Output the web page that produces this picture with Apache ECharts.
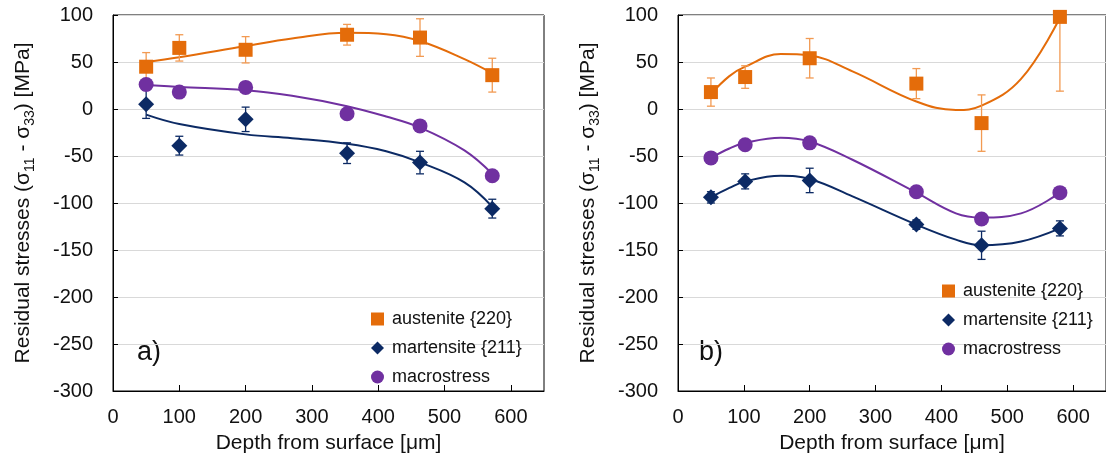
<!DOCTYPE html>
<html lang="en">
<head>
  <meta charset="UTF-8">
  <title>Residual stresses</title>
  <script src="https://cdn.jsdelivr.net/npm/echarts@6/dist/echarts.min.js"></script>
  <style>
    html, body { margin: 0; padding: 0; background: #fff; }
    #main { width: 1106px; height: 463px; }
  </style>
</head>
<body>
<div id="main"></div>
<script type="text/javascript">
// panel a)
var depthA = [50, 100, 200, 353, 463, 572];
var austA = [45, 65, 63, 79, 76, 36];
var austErrA = [15, 14, 14, 11, 20, 18];
var martA = [5, -39, -11, -47, -57, -106];
var martErrA = [15, 10, 13, 11, 12, 10];
var macroA = [26, 18, 23, -5, -18, -71];
// trend lines read off panel a)
var trendDepthA = [50, 100, 200, 270, 353, 412, 464, 530, 572];
var austTrendA = [50, 55, 67, 75, 81, 79.5, 72, 53, 38];
var martTrendA = [-6, -16, -27, -31, -37, -45, -57, -78, -104];
var macroTrendA = [25.5, 23.5, 20, 14, 3, -8, -20, -44, -69];

// panel b)
var depthB = [50, 102, 200, 362, 461, 580];
var austB = [18, 34, 54, 27, -15, 98];
var austErrB = [15, 12, 21, 16, 30, 79];
var martB = [-94, -77, -76, -123, -145, -127];
var martErrB = [6, 8, 13, 5, 15, 8];
var macroB = [-52, -38, -36, -88, -117, -89];
// trend lines read off panel b)
var trendDepthB = [50, 78, 102, 156, 200, 265, 362, 422, 461, 521, 580];
var austTrendB = [16, 35, 45, 58.5, 57, 40, 8, -1, 3.5, 32, 97];
var martTrendB = [-94, -84, -77, -71, -74.5, -93, -123, -139, -145, -141, -127];
var macroTrendB = [-52, -42, -36, -30.5, -34.5, -54, -89, -111, -115.5, -111, -89];

var xTicks = [0, 100, 200, 300, 400, 500, 600];

var ORANGE = '#E46C0A', ORANGE_ERR = '#F29A52', NAVY = '#0C2A64', PURPLE = '#7030A0';
var FONT = 'Liberation Sans';
var TXT = '#111';

var names = ['austenite {220}', 'martensite {211}', 'macrostress'];

function pairs(xs, ys) {
  return xs.map(function (x, i) { return [x, ys[i]]; });
}

function errBars(xs, ys, es, color, idx) {
  return {
    type: 'custom',
    xAxisIndex: idx, yAxisIndex: idx,
    z: 2,
    silent: true,
    data: xs.map(function (x, i) { return [x, ys[i], es[i]]; }),
    encode: { x: 0, y: 1 },
    renderItem: function (params, api) {
      var x = api.value(0), y = api.value(1), e = api.value(2);
      var top = api.coord([x, y + e]);
      var bot = api.coord([x, y - e]);
      var cs = params.coordSys;
      var t = Math.max(top[1], cs.y), b = Math.min(bot[1], cs.y + cs.height);
      var st = { stroke: color, lineWidth: 1.3 };
      var kids = [{ type: 'line', shape: { x1: top[0], y1: t, x2: top[0], y2: b }, style: st }];
      if (top[1] >= cs.y) kids.push({ type: 'line', shape: { x1: top[0] - 4, y1: top[1], x2: top[0] + 4, y2: top[1] }, style: st });
      if (bot[1] <= cs.y + cs.height) kids.push({ type: 'line', shape: { x1: bot[0] - 4, y1: bot[1], x2: bot[0] + 4, y2: bot[1] }, style: st });
      return { type: 'group', children: kids };
    }
  };
}

function trend(xs, ys, color, idx) {
  return {
    type: 'line', name: 'trend', xAxisIndex: idx, yAxisIndex: idx,
    data: pairs(xs, ys), smooth: 0.4, showSymbol: false, silent: true, z: 1,
    lineStyle: { color: color, width: 2 }
  };
}

function points(name, xs, ys, symbol, size, color, idx) {
  return {
    type: 'scatter', name: name, xAxisIndex: idx, yAxisIndex: idx,
    data: pairs(xs, ys), symbol: symbol, symbolSize: size, z: 3,
    itemStyle: { color: color, opacity: 1 }
  };
}

function xAxis(idx) {
  return {
    type: 'value', gridIndex: idx, min: 0, max: 650, interval: 100,
    name: 'Depth from surface [μm]', nameLocation: 'middle', nameGap: 42,
    nameTextStyle: { fontSize: 21, color: TXT, fontFamily: FONT },
    axisLine: { onZero: false, lineStyle: { color: '#000', width: 1 } },
    axisTick: { inside: true, length: 6, lineStyle: { color: '#000' } },
    axisLabel: {
      fontSize: 20, color: TXT, fontFamily: FONT, margin: 16, showMaxLabel: false,
      formatter: function (v) { return xTicks.indexOf(v) >= 0 ? String(v) : ''; }
    },
    splitLine: { show: false }
  };
}

function yAxis(idx) {
  return {
    type: 'value', gridIndex: idx, min: -300, max: 100, interval: 50,
    name: '{n|Residual stresses (σ}{s|11}{n| - σ}{s|33}{n|) [MPa]}',
    nameLocation: 'middle', nameRotate: 90, nameGap: 76,
    nameTextStyle: {
      rich: {
        n: { fontSize: 21, color: TXT, fontFamily: FONT, lineHeight: 28 },
        s: { fontSize: 14, color: TXT, fontFamily: FONT, lineHeight: 14, verticalAlign: 'bottom' }
      }
    },
    axisLine: { show: true, onZero: false, lineStyle: { color: '#000', width: 1 } },
    axisTick: { show: true, inside: true, length: 5, lineStyle: { color: '#000' } },
    axisLabel: { fontSize: 20, color: TXT, fontFamily: FONT, margin: 20 },
    splitLine: { show: true, lineStyle: { color: '#D9D9D9', width: 1 } }
  };
}

function legend(left, top) {
  return {
    orient: 'vertical', left: left, top: top, itemGap: 11,
    itemWidth: 13, itemHeight: 13,
    textStyle: { fontSize: 18, color: TXT, fontFamily: FONT, padding: [0, 0, 0, 3] },
    data: [
      { name: names[0], icon: 'rect' },
      { name: names[1], icon: 'diamond' },
      { name: names[2], icon: 'circle' }
    ],
    selectedMode: false
  };
}

var myChart = echarts.init(document.getElementById('main'));
var option = {
  animation: false,
  backgroundColor: '#fff',
  grid: [
    { left: 113, top: 15, width: 431, height: 376, show: true, borderColor: '#000', borderWidth: 1 },
    { left: 678, top: 15, width: 435, height: 376, show: true, borderColor: '#000', borderWidth: 1 }
  ],
  xAxis: [xAxis(0), xAxis(1)],
  yAxis: [yAxis(0), yAxis(1)],
  legend: [legend(366, 305), legend(937, 277)],
  graphic: [
    { type: 'text', left: 137, top: 339, style: { text: 'a)', font: '27px "Liberation Sans"', fill: TXT } },
    { type: 'text', left: 699, top: 339, style: { text: 'b)', font: '27px "Liberation Sans"', fill: TXT } }
  ],
  series: [
    trend(trendDepthA, austTrendA, ORANGE, 0),
    trend(trendDepthA, martTrendA, NAVY, 0),
    trend(trendDepthA, macroTrendA, PURPLE, 0),
    errBars(depthA, austA, austErrA, ORANGE_ERR, 0),
    errBars(depthA, martA, martErrA, NAVY, 0),
    points(names[0], depthA, austA, 'rect', 14, ORANGE, 0),
    points(names[1], depthA, martA, 'diamond', 16, NAVY, 0),
    points(names[2], depthA, macroA, 'circle', 15, PURPLE, 0),

    trend(trendDepthB, austTrendB, ORANGE, 1),
    trend(trendDepthB, martTrendB, NAVY, 1),
    trend(trendDepthB, macroTrendB, PURPLE, 1),
    errBars(depthB, austB, austErrB, ORANGE_ERR, 1),
    errBars(depthB, martB, martErrB, NAVY, 1),
    points(names[0], depthB, austB, 'rect', 14, ORANGE, 1),
    points(names[1], depthB, martB, 'diamond', 16, NAVY, 1),
    points(names[2], depthB, macroB, 'circle', 15, PURPLE, 1)
  ]
};
myChart.setOption(option);
</script>
</body>
</html>
